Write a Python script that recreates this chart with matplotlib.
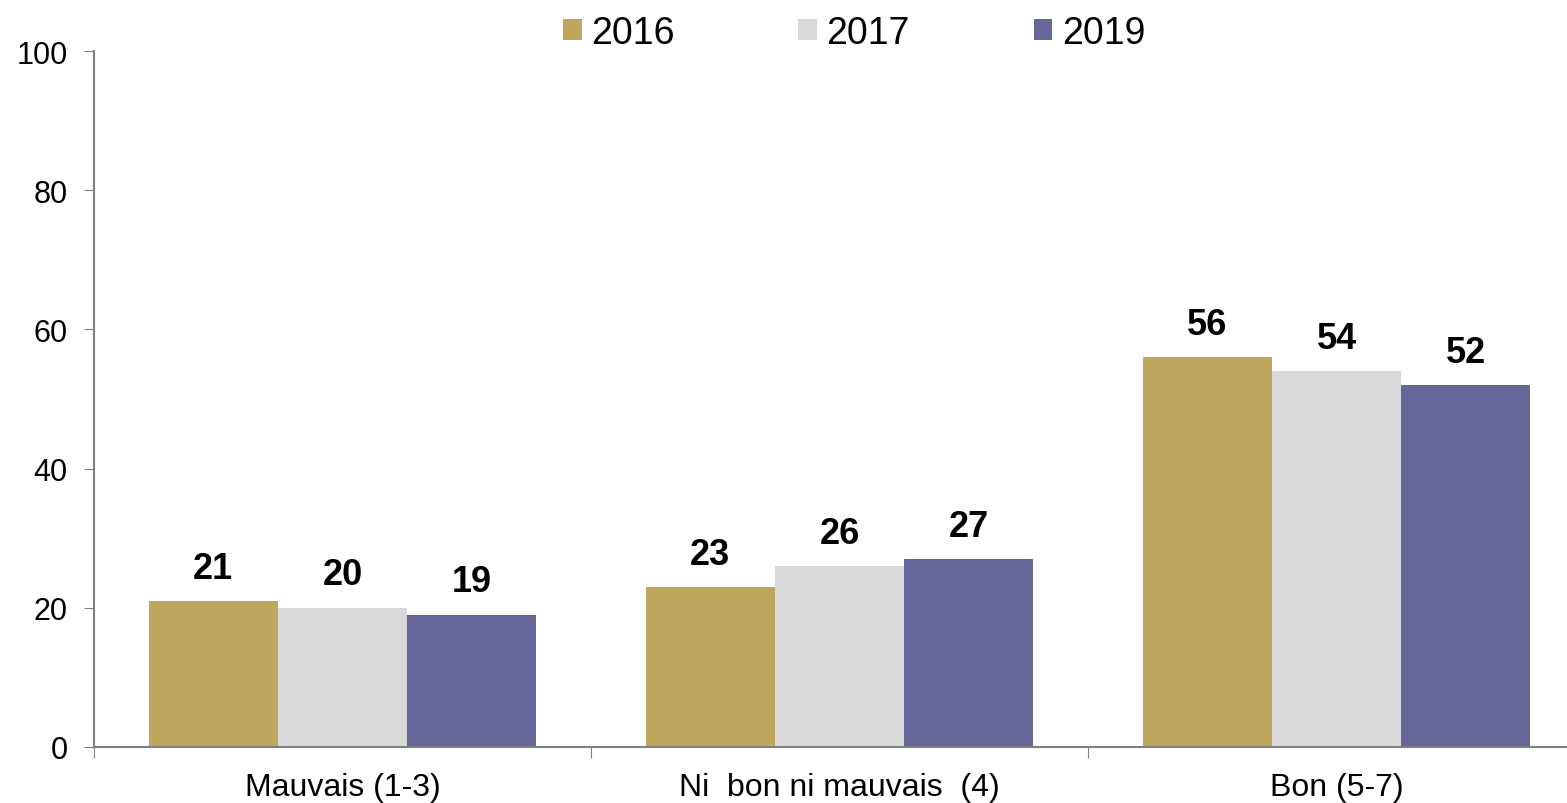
import numpy as np
import matplotlib
matplotlib.use("Agg")
import matplotlib.pyplot as plt

plt.rcParams['font.family'] = ['Liberation Sans', 'DejaVu Sans']

categories = ["Mauvais (1-3)", "Ni  bon ni mauvais  (4)", "Bon (5-7)"]
years = ["2016", "2017", "2019"]
values = {
    "2016": [21, 23, 56],
    "2017": [20, 26, 54],
    "2019": [19, 27, 52],
}
colors = ["#BEA75C", "#D9D9D9", "#666699"]

fig = plt.figure(figsize=(15.67, 8.04), dpi=100)
ax = fig.add_axes([0.060, 0.0697, 0.9515, 0.8656])

x = np.arange(len(categories))
w = 0.26
for i, yr in enumerate(years):
    pos = x + (i - 1) * w
    bars = ax.bar(pos, values[yr], width=w, color=colors[i], label=yr, zorder=2)
    for b, v in zip(bars, values[yr]):
        ax.text(b.get_x() + b.get_width() / 2, v + 2.2, str(v), ha='center', va='bottom',
                fontsize=26, fontweight='bold')

ax.set_xlim(-0.5, 2.5)
ax.set_ylim(0, 100)
ax.set_yticks(np.arange(0, 101, 20))
ax.tick_params(axis='y', labelsize=22, length=7, color='#808080', direction='out', pad=12)

# category labels between boundary ticks
ax.set_xticks(np.arange(-0.5, 3.0, 1.0))
ax.set_xticklabels([])
ax.set_xticks(x, minor=True)
ax.set_xticklabels(categories, minor=True, fontsize=23)
ax.tick_params(axis='x', which='major', length=8, color='#808080', direction='out')
ax.tick_params(axis='x', which='minor', length=0, pad=18)

for s in ['top', 'right']:
    ax.spines[s].set_visible(False)
for s in ['left', 'bottom']:
    ax.spines[s].set_color('#808080')
    ax.spines[s].set_linewidth(1.5)

fig.legend(loc='upper center', bbox_to_anchor=(0.545, 1.022), ncol=3, frameon=False,
           fontsize=27, handlelength=0.5, handleheight=0.5, handletextpad=0.25,
           columnspacing=3.3)

fig.savefig("out.png", dpi=100)
